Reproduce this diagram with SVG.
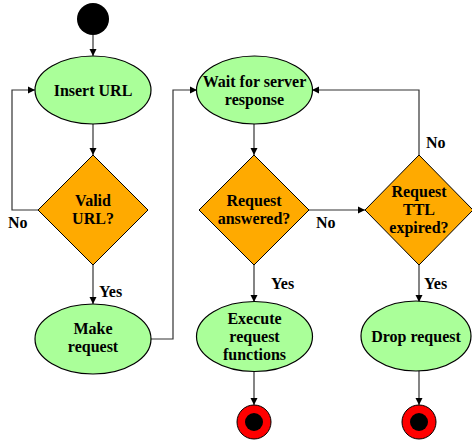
<svg xmlns="http://www.w3.org/2000/svg" width="472" height="444" viewBox="0 0 472 444" font-family="'Liberation Serif', 'Times New Roman', 'DejaVu Serif', serif">
<style>
.act{fill:#aaff99;stroke:#000;stroke-width:1.2}
.dec{fill:#ffaa00;stroke:#000;stroke-width:1}
text{font-family:'Liberation Serif','Times New Roman','DejaVu Serif',serif;font-weight:bold;font-size:16px;fill:#000}
.t{text-anchor:middle}
.c{fill:none;stroke:#333;stroke-width:1.2;marker-end:url(#ah)}
</style>
<defs>
<marker id="ah" markerWidth="8" markerHeight="8" refX="7" refY="4" orient="auto" markerUnits="userSpaceOnUse">
<path d="M0,0.5 L7,4 L0,7.5 Z" fill="#000"/>
</marker>
</defs>
<rect width="472" height="444" fill="#fff"/>
<g id="connectors">
<path class="c" d="M93,35 V56"/>
<path class="c" d="M93,124 V155"/>
<path class="c" d="M38,210 H12 V90 H35"/>
<path class="c" d="M93,265 V304"/>
<path class="c" d="M151,339 H173 V90 H197"/>
<path class="c" d="M254,124 V155"/>
<path class="c" d="M309,210 H365"/>
<path class="c" d="M419,155 V90 H312"/>
<path class="c" d="M254,265 V302"/>
<path class="c" d="M419,265 V302"/>
<path class="c" d="M254,371 V405"/>
<path class="c" d="M419,371 V405"/>
<text x="8" y="228">No</text>
<text x="99" y="297">Yes</text>
<text x="316" y="228">No</text>
<text x="426" y="148">No</text>
<text x="271" y="289">Yes</text>
<text x="424" y="289">Yes</text>
</g>
<g id="start"><circle cx="93" cy="19" r="16" fill="#000"/></g>
<g id="insert-url"><ellipse class="act" cx="93" cy="90" rx="58" ry="34"/><text class="t" x="93" y="96">Insert URL</text></g>
<g id="valid-url"><polygon class="dec" points="93,155 148,210 93,265 38,210"/><text class="t" x="93" y="206">Valid</text><text class="t" x="93" y="224">URL?</text></g>
<g id="make-request"><ellipse class="act" cx="93" cy="339" rx="58" ry="35"/><text class="t" x="93" y="334">Make</text><text class="t" x="93" y="352">request</text></g>
<g id="wait"><ellipse class="act" cx="254.5" cy="90" rx="58" ry="34"/><text class="t" x="254.5" y="87">Wait for server</text><text class="t" x="254.5" y="105">response</text></g>
<g id="answered"><polygon class="dec" points="254,155 309,210 254,265 199,210"/><text class="t" x="254" y="206">Request</text><text class="t" x="254" y="224">answered?</text></g>
<g id="ttl"><polygon class="dec" points="419,155 473,210 419,265 365,210"/><text class="t" x="419" y="197">Request</text><text class="t" x="419" y="215">TTL</text><text class="t" x="419" y="233">expired?</text></g>
<g id="execute"><ellipse class="act" cx="254.5" cy="336.5" rx="58" ry="35"/><text class="t" x="254.5" y="324">Execute</text><text class="t" x="254.5" y="342">request</text><text class="t" x="254.5" y="360">functions</text></g>
<g id="drop"><ellipse class="act" cx="416" cy="336" rx="55" ry="35"/><text class="t" x="416" y="342">Drop request</text></g>
<g id="end1"><circle cx="254" cy="422" r="17" fill="#ff0000" stroke="#000" stroke-width="1"/><circle cx="254" cy="422" r="9" fill="#000"/></g>
<g id="end2"><circle cx="419" cy="422" r="17" fill="#ff0000" stroke="#000" stroke-width="1"/><circle cx="419" cy="422" r="9" fill="#000"/></g>
</svg>
